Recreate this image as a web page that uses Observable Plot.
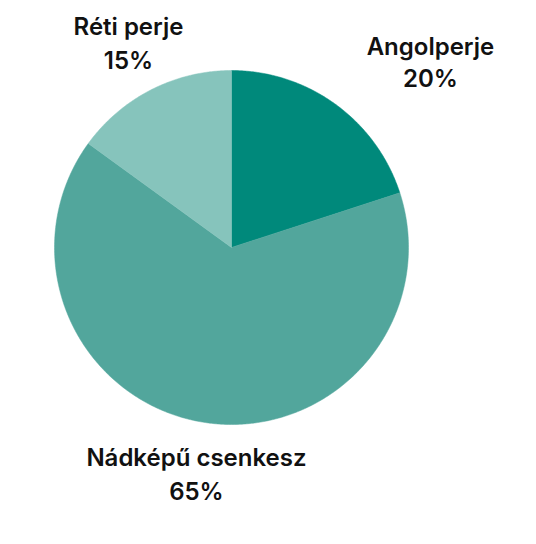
<!DOCTYPE html>
<html>
<head>
<meta charset="utf-8">
<script src="https://cdn.jsdelivr.net/npm/d3@7"></script>
<script src="https://cdn.jsdelivr.net/npm/@observablehq/plot@0.6"></script>
<style>
  html, body { margin: 0; padding: 0; background: #ffffff; }
  #chart svg { display: block; }
</style>
</head>
<body>
<div id="chart"></div>
<script>
// Data
const categories = ["Angolperje", "Nádképű csenkesz", "Réti perje"];
const values = [20, 65, 15];
const colors = ["#00897b", "#52a69c", "#86c4bc"];

// Label placement (unit-circle coordinates: x, name baseline y, percent baseline y)
const labelLayout = {
  "Angolperje": [1.124, 1.085, 0.904],
  "Nádképű csenkesz": [-0.198, -1.237, -1.429],
  "Réti perje": [-0.582, 1.198, 1.006]
};

const total = d3.sum(values);
const pts = [];
let start = 0;
categories.forEach((cat, i) => {
  const span = values[i] / total * 2 * Math.PI;
  const end = start + span;
  pts.push({cat, x: 0, y: 0});
  const n = Math.max(2, Math.ceil(span / (Math.PI / 360)));
  for (let k = 0; k <= n; k++) {
    const a = start + span * k / n;
    pts.push({cat, x: Math.sin(a), y: Math.cos(a)});
  }
  pts.push({cat, x: 0, y: 0});
  start = end;
});

const labels = categories.map((cat, i) => ({
  cat,
  pct: values[i] + "%",
  x: labelLayout[cat][0],
  y1: labelLayout[cat][1],
  y2: labelLayout[cat][2]
}));

const font = "Inter, 'DejaVu Sans', sans-serif";

const plot = Plot.plot({
  width: 536,
  height: 544,
  marginLeft: 54,
  marginRight: 128,
  marginTop: 70,
  marginBottom: 120,
  x: {domain: [-1, 1], axis: null},
  y: {domain: [-1, 1], axis: null},
  color: {domain: categories, range: colors},
  style: {background: "#ffffff", overflow: "visible"},
  marks: [
    Plot.line(pts, {x: "x", y: "y", z: "cat", fill: "cat", stroke: "cat", strokeWidth: 0.5, curve: "linear"}),
    Plot.text(labels, {x: "x", y: "y1", text: "cat", lineAnchor: "bottom", fontSize: 24, fontWeight: 600, fill: "#111111", fontFamily: font}),
    Plot.text(labels, {x: "x", y: "y2", text: "pct", lineAnchor: "bottom", fontSize: 24, fontWeight: 600, fill: "#111111", fontFamily: font})
  ]
});
document.getElementById("chart").appendChild(plot);
</script>
</body>
</html>
